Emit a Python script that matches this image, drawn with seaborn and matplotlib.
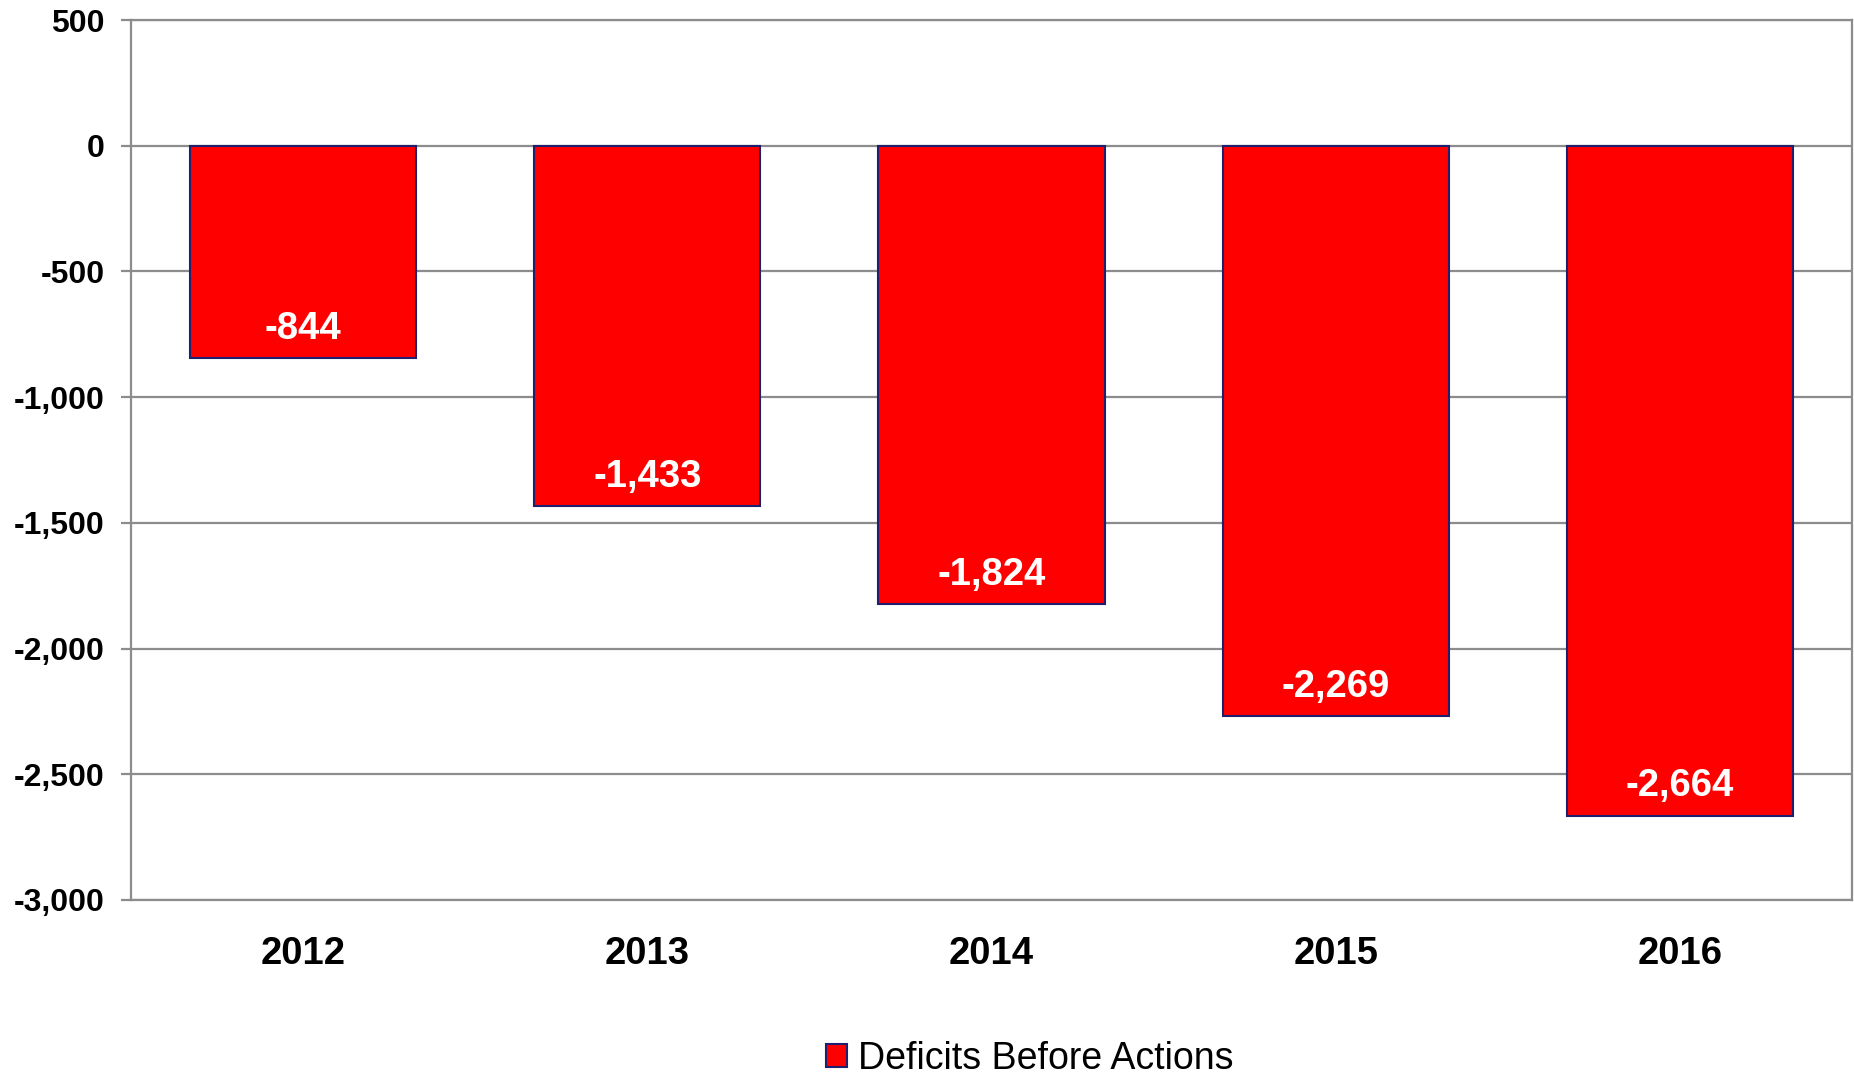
import matplotlib
matplotlib.use("Agg")
import matplotlib.pyplot as plt
from matplotlib.ticker import FuncFormatter, MultipleLocator
from matplotlib.patches import Patch
import seaborn as sns
import pandas as pd

years = ["2012", "2013", "2014", "2015", "2016"]
deficits = [-844, -1433, -1824, -2269, -2664]
series_name = "Deficits Before Actions"

df = pd.DataFrame({"year": years, "value": deficits})

sns.set_theme(style="white")
plt.rcParams["font.family"] = ["Liberation Sans", "DejaVu Sans"]

fig = plt.figure(figsize=(18.54, 10.76), dpi=100)
ax = fig.add_axes([131 / 1854, 1 - 900 / 1076, (1852 - 131) / 1854, (900 - 20) / 1076])

grid_color = "#8c8c8c"
ax.set_ylim(-3000, 500)
ax.yaxis.set_major_locator(MultipleLocator(500))
ax.yaxis.grid(True, color=grid_color, linewidth=1.6)
ax.set_axisbelow(True)

sns.barplot(data=df, x="year", y="value", color="#ff0000", saturation=1,
            width=0.657, edgecolor="#1f1f6e", linewidth=1.5, ax=ax)

for spine in ax.spines.values():
    spine.set_visible(True)
    spine.set_color(grid_color)
    spine.set_linewidth(1.6)

ax.yaxis.set_major_formatter(FuncFormatter(lambda v, p: f"{int(v):,}"))
ax.tick_params(axis="y", which="major", left=True, length=7, width=1.6,
               color=grid_color, pad=12, labelsize=23)
ax.tick_params(axis="x", bottom=False, pad=20, labelsize=27.5)
for lbl in ax.get_yticklabels() + ax.get_xticklabels():
    lbl.set_fontweight("bold")
    lbl.set_color("black")
ax.set_xlabel("")
ax.set_ylabel("")

for i, v in enumerate(deficits):
    ax.annotate(f"{v:,}", xy=(i, v), xytext=(0, 21), textcoords="offset points",
                ha="center", va="center", color="white", fontsize=27.5,
                fontweight="bold")

handle = Patch(facecolor="#ff0000", edgecolor="#1f1f6e", linewidth=1.5, label=series_name)
leg = fig.legend(handles=[handle], loc="center", bbox_to_anchor=(1030 / 1854, 1 - 1059 / 1076),
                 frameon=False, fontsize=27, handlelength=0.55, handleheight=0.55,
                 handletextpad=0.3, borderpad=0.0)
for t in leg.get_texts():
    t.set_color("black")

fig.savefig("out.png", dpi=100, facecolor="white")
